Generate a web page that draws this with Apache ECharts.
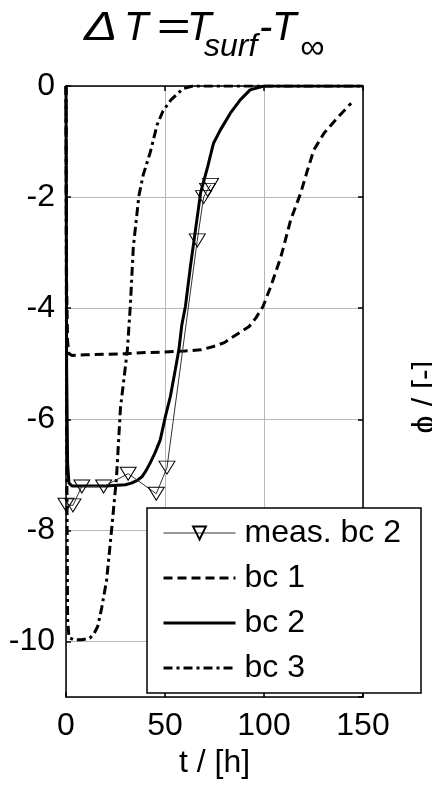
<!DOCTYPE html>
<html><head><meta charset="utf-8">
<script src="https://cdn.jsdelivr.net/npm/echarts@6/dist/echarts.min.js"></script>
<style>html,body{margin:0;padding:0;background:#fff}#c{width:432px;height:785px}</style>
</head><body><div id="c"></div>
<script>
// ---- data ----
const bc1T = [0, 0.3, 0.8, 1.5, 3, 10, 20, 30, 40, 50, 60, 68, 74.5, 80, 85, 92.5, 96, 99.5, 103.4, 108.5, 113.5, 118.6, 122, 125.2, 130.3, 137.4, 144];
const bc1V = [0, -3.5, -4.6, -4.82, -4.85, -4.84, -4.83, -4.82, -4.8, -4.79, -4.77, -4.75, -4.69, -4.62, -4.5, -4.33, -4.17, -3.97, -3.61, -3.08, -2.41, -1.92, -1.51, -1.15, -0.85, -0.56, -0.31];

const bc2T = [0, 0.3, 0.8, 1.5, 3, 10, 20, 30, 33, 36, 38.5, 40.5, 42.6, 45, 47.6, 50.2, 52.7, 55.2, 57, 58.5, 60.3, 62.8, 65.4, 68, 71.5, 74.5, 78, 83, 88, 93, 100, 120, 150];
const bc2V = [0, -5, -6.8, -7.15, -7.2, -7.2, -7.2, -7.18, -7.15, -7.1, -7.03, -6.92, -6.78, -6.6, -6.37, -5.95, -5.59, -5.11, -4.75, -4.3, -3.97, -3.26, -2.59, -1.92, -1.46, -1.03, -0.79, -0.49, -0.25, -0.07, 0, 0, 0];

const bc3T = [0, 0.3, 0.8, 1.5, 4, 8, 12, 14, 16, 18, 20.5, 23, 25.5, 27.5, 29.5, 31, 32.5, 34, 36.8, 39, 42.5, 46, 49, 53, 59, 64, 80, 100, 120, 150];
const bc3V = [0, -6, -9.6, -9.93, -9.97, -9.97, -9.94, -9.87, -9.73, -9.4, -8.9, -8.0, -7.05, -5.8, -5.2, -4.75, -3.95, -2.9, -1.98, -1.6, -1.2, -0.7, -0.45, -0.25, -0.05, 0, 0, 0, 0, 0];

const measT = [0, 3.5, 8, 19, 31.4, 45.6, 51, 66.3, 69.5, 71.5, 73];
const measV = [-7.54, -7.55, -7.21, -7.21, -6.98, -7.34, -6.87, -2.78, -2.0, -1.87, -1.78];

const xTickLabels = [0, 50, 100, 150];
const yTickLabels = [0, -2, -4, -6, -8, -10];
const seriesNames = ['meas. bc 2', 'bc 1', 'bc 2', 'bc 3'];
const xAxisName = 't / [h]';
const sideLabel = 'ϕ / [-]';
// title pieces: [text, style index: 0 main, 1 subscript, 2 infinity subscript]
const titleParts = [['Δ', 0], ['T', 0], ['=', 0], ['T', 0], ['surf', 1], ['-', 0], ['T', 0], ['∞', 2]];

// ---- chart ----
const FONT = '"Liberation Sans", Arial, sans-serif';
const zip = (t, v) => t.map((x, i) => [x, v[i]]);
const chart = echarts.init(document.getElementById('c'), null, {renderer: 'canvas'});

const axisLineStyle = {color: '#000', width: 1.5};
const tickStyle = {inside: true, length: 5, lineStyle: {color: '#000', width: 1.5}};
const gridColor = '#b8b8b8';

// title layout (text positions only)
const titleX = [84, 124, 156, 187, 204, 259, 272, 300];
const titleScaleX = [1.25, 1, 1.45, 1, 1, 1, 1, 1];
const titleStyles = [
  {fontSize: 40, y: 29},
  {fontSize: 32, y: 47},
  {fontSize: 34, y: 49}
];
const titleGraphics = titleParts.map((p, i) => ({
  type: 'text', x: titleX[i], y: titleStyles[p[1]].y, scaleX: titleScaleX[i],
  style: {text: p[0], fontSize: titleStyles[p[1]].fontSize, fontFamily: FONT, fontStyle: 'italic',
    fontWeight: 'normal', fill: '#000', align: 'left', verticalAlign: 'middle'}
}));

const option = {
  animation: false,
  backgroundColor: '#fff',
  grid: {left: 66, right: 69, top: 86, bottom: 88},
  xAxis: [{
    type: 'value', min: 0, max: 150, interval: 50, position: 'bottom',
    axisLine: {show: true, onZero: false, lineStyle: axisLineStyle},
    axisTick: tickStyle,
    axisLabel: {fontSize: 32, color: '#000', fontFamily: FONT, margin: 13,
      formatter: v => xTickLabels.indexOf(v) >= 0 ? String(v) : ''},
    splitLine: {show: true, lineStyle: {color: gridColor, width: 1}},
    name: xAxisName, nameLocation: 'middle', nameGap: 48,
    nameTextStyle: {fontSize: 32, color: '#000', fontFamily: FONT}
  }, {
    type: 'value', min: 0, max: 150, interval: 50, position: 'top',
    axisLine: {show: true, onZero: false, lineStyle: axisLineStyle},
    axisTick: tickStyle, axisLabel: {show: false}, splitLine: {show: false}
  }],
  yAxis: [{
    type: 'value', min: -11, max: 0, minInterval: 2, maxInterval: 2, splitNumber: 5, position: 'left',
    axisLine: {show: true, onZero: false, lineStyle: axisLineStyle},
    axisTick: tickStyle,
    axisLabel: {fontSize: 32, color: '#000', fontFamily: FONT, margin: 11, showMinLabel: false,
      formatter: v => yTickLabels.indexOf(v) >= 0 ? String(v) : ''},
    splitLine: {show: true, lineStyle: {color: gridColor, width: 1}}
  }, {
    type: 'value', min: -11, max: 0, minInterval: 2, maxInterval: 2, splitNumber: 5, position: 'right',
    axisLine: {show: true, onZero: false, lineStyle: axisLineStyle},
    axisTick: tickStyle, axisLabel: {show: false}, splitLine: {show: false}
  }],
  legend: {
    orient: 'vertical', left: 147, top: 508,
    itemWidth: 72, itemHeight: 16, itemGap: 9,
    padding: [7, 20, 7, 15],
    borderColor: '#000', borderWidth: 1.5, borderRadius: 0, backgroundColor: '#fff',
    selectedMode: false,
    textStyle: {fontSize: 32, lineHeight: 36, fontFamily: FONT, color: '#000', padding: [0, 0, 0, 4]},
    data: [
      {name: seriesNames[0], lineStyle: {width: 1}},
      {name: seriesNames[1], itemStyle: {opacity: 0}, lineStyle: {width: 3}},
      {name: seriesNames[2], itemStyle: {opacity: 0}, lineStyle: {width: 3}},
      {name: seriesNames[3], itemStyle: {opacity: 0}, lineStyle: {width: 3}}
    ]
  },
  graphic: titleGraphics.concat([{
    type: 'text', x: 425, y: 397, rotation: Math.PI / 2,
    style: {text: sideLabel, fontSize: 32, fontFamily: FONT, fill: '#000', align: 'center', verticalAlign: 'middle'}
  }]),
  series: [
    {name: seriesNames[1], type: 'line', data: zip(bc1T, bc1V), symbol: 'none', z: 3,
      lineStyle: {color: '#000', width: 3, type: [9, 5]}, itemStyle: {color: '#000'}},
    {name: seriesNames[2], type: 'line', data: zip(bc2T, bc2V), symbol: 'none', z: 3,
      lineStyle: {color: '#000', width: 3, type: 'solid'}, itemStyle: {color: '#000'}},
    {name: seriesNames[3], type: 'line', data: zip(bc3T, bc3V), symbol: 'none', z: 3,
      lineStyle: {color: '#000', width: 3, type: [9, 4, 3, 4]}, itemStyle: {color: '#000'}},
    {name: seriesNames[0], type: 'line', data: zip(measT, measV), z: 5,
      symbol: 'triangle', symbolRotate: 180, symbolSize: [16, 13], showSymbol: true,
      lineStyle: {color: '#333', width: 1},
      itemStyle: {color: 'rgba(0,0,0,0)', borderColor: '#000', borderWidth: 1}}
  ]
};
chart.setOption(option);
</script>
</body></html>
